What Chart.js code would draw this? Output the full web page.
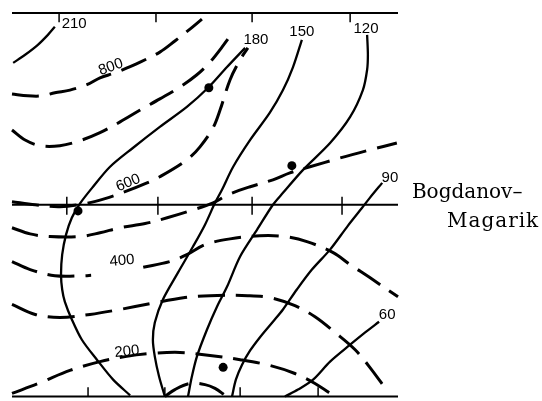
<!DOCTYPE html>
<html>
<head>
<meta charset="utf-8">
<script src="https://cdn.jsdelivr.net/npm/chart.js"></script>
<style>
  body { margin: 0; background: #fff; }
  canvas { display: block; }
</style>
</head>
<body>
<canvas id="myChart" width="542" height="401"></canvas>
<script>
// heltrukne kurver (210, 180, 150, 120, 90, 60)
let kurve210 = [[0.3, 87.0], [3.4, 89.1], [6.7, 91.7], [9.3, 94.3], [11.1, 96.4]];
let kurve180 = [[60.4, 90.9], [55.7, 85.9], [51.0, 80.7], [45.3, 75.5], [38.3, 70.3], [31.3, 64.8], [25.4, 59.9], [21.0, 54.7], [17.6, 50.3], [15.5, 46.6], [14.0, 42.2], [13.0, 37.0], [12.7, 31.8], [13.0, 27.9], [13.7, 24.7], [15.5, 20.1], [18.1, 14.8], [22.0, 9.6], [26.2, 4.4], [30.6, 0.3]];
let kurve150 = [[75.1, 93.0], [72.8, 85.9], [70.2, 79.9], [66.8, 74.0], [61.7, 66.9], [57.3, 59.9], [54.4, 53.9], [52.6, 50.5], [50.0, 44.8], [46.9, 39.1], [43.0, 32.3], [39.1, 25.3], [37.0, 19.3], [36.5, 14.8], [37.0, 10.4], [38.1, 5.2], [39.6, 0]];
let kurve120 = [[92.0, 94.3], [92.2, 89.1], [92.0, 85.2], [90.9, 79.9], [87.6, 72.9], [82.4, 66.1], [75.4, 59.1], [70.2, 53.1], [67.6, 50.0], [63.5, 43.5], [59.1, 36.5], [55.7, 28.6], [53.1, 23.4], [50.5, 17.4], [47.9, 10.4], [46.6, 5.2], [45.6, 0]];
let kurve90 = [[95.9, 55.7], [92.7, 51.8], [90.7, 49.2], [87.0, 44.5], [82.4, 38.3], [77.7, 33.1], [73.8, 27.9], [70.2, 22.7], [67.6, 19.5], [64.2, 15.4], [61.7, 12.0], [59.6, 8.3], [58.0, 4.4], [57.0, 0]];
let kurve60 = [[95.1, 19.5], [91.5, 16.7], [87.6, 13.5], [82.4, 9.1], [78.0, 4.4], [74.1, 1.8], [70.7, 0]];

// stiplede kurver (800, 600, 400, 200 og de uten tall)
let stiplet800 = [[0, 78.9], [4.1, 78.4], [7.8, 78.4], [11.1, 79.2], [15.0, 79.9], [19.4, 81.3], [22.8, 83.1], [26.7, 84.4], [29.8, 85.7], [33.2, 87.2], [38.3, 89.8], [42.2, 92.7], [46.1, 95.8], [49.2, 98.4]];
let stipletA = [[0, 69.5], [3.4, 66.9], [7.3, 65.4], [12.4, 65.4], [17.6, 66.7], [22.8, 68.8], [28.0, 71.6], [33.2, 74.7], [38.3, 77.6], [43.5, 80.7], [47.9, 83.9], [51.3, 87.2], [54.4, 91.1], [57.3, 95.1]];
let stiplet600 = [[0, 50.8], [6.0, 50.0], [12.4, 49.5], [18.9, 50.3], [24.1, 51.6], [29.3, 53.4], [34.5, 55.5], [38.3, 57.3], [45.3, 61.7], [48.7, 65.1], [52.1, 70.1], [53.9, 74.7], [56.5, 82.6], [59.1, 87.8], [61.1, 90.9]];
let stipletB = [[0, 44.0], [4.7, 42.4], [9.8, 41.7], [17.6, 41.7], [22.8, 42.7], [28.0, 44.0], [34.5, 45.1], [40.2, 46.6], [46.1, 48.4], [52.1, 50.5], [56.0, 52.6], [61.7, 54.7], [67.6, 56.5], [72.0, 58.3], [77.2, 59.9], [85.0, 62.2], [92.7, 64.3], [99.7, 66.1]];
// hull der "400" står
let stiplet400 = [[0, 35.2], [4.7, 33.1], [11.1, 31.5], [18.9, 31.5], [20.5, 31.6], [26, null], [34.0, 33.7], [40.9, 35.2], [45.3, 37.0], [50.0, 39.6], [56.5, 41.1], [64.2, 41.9], [70.7, 41.7], [76.4, 40.4], [83.2, 37.5], [87.6, 34.4], [92.7, 31.0], [100, 26.0]];
let stipletC = [[0, 24.0], [6.0, 21.4], [12.4, 20.6], [20.2, 21.4], [28.0, 22.7], [35.8, 24.2], [44.8, 25.8], [51.3, 26.3], [61.1, 26.3], [66.8, 25.8], [73.3, 23.7], [78.5, 20.8], [83.7, 16.7], [88.9, 12.2], [92.7, 7.6], [96.6, 2.3]];
let stiplet200 = [[0, 0.8], [7.3, 3.6], [15.0, 6.8], [22.8, 9.1], [29.3, 10.4], [35.8, 11.2], [43.5, 11.5], [51.3, 10.7], [59.1, 9.6], [66.8, 8.1], [73.3, 6.0], [78.5, 3.4], [83.2, 0.3]];
let stipletBue = [[39.6, 0], [42.2, 1.8], [46.1, 3.4], [50.0, 3.1], [52.6, 2.1], [55.2, 0.3]];

// målepunkter (prikkene)
let prikker = [[51.0, 80.5], [72.5, 60.2], [17.1, 48.4], [54.7, 7.6]];

// små streker på de tre linjene
let toppTicks = [12.2, 37.3, 62.2, 87.6];
let midtTicks = [14.2, 37.8, 62.2, 85.5];
let bunnTicks = [19.7, 39.6, 59.1, 79.3];

// tekst: [tekst, x, y, vinkel]
let etiketter = [
    ["210", 16.1, 97.1, 0],
    ["800", 25.6, 85.9, -20],
    ["180", 63.2, 93.0, 0],
    ["150", 75.1, 95.1, 0],
    ["120", 91.7, 95.8, 0],
    ["600", 30.1, 55.7, -22],
    ["90", 97.9, 57.0, 0],
    ["400", 28.5, 35.4, -5],
    ["60", 97.2, 21.4, 0],
    ["200", 29.8, 11.7, -6]
];

function tilPunkter(liste) {
    return liste.map(p => ({ x: p[0], y: p[1] }));
}

let svart = "#000";
let datasett = [];

// rammen: tre vannrette linjer
[0, 50, 100].forEach(function (y) {
    datasett.push({ data: [{ x: 0, y: y }, { x: 100, y: y }], borderWidth: 2, borderColor: svart });
});

toppTicks.forEach(function (x) {
    datasett.push({ data: [{ x: x, y: 100 }, { x: x, y: 97.6 }], borderWidth: 1.5, borderColor: svart });
});
midtTicks.forEach(function (x) {
    datasett.push({ data: [{ x: x, y: 52.1 }, { x: x, y: 47.4 }], borderWidth: 1.5, borderColor: svart });
});
bunnTicks.forEach(function (x) {
    datasett.push({ data: [{ x: x, y: 0 }, { x: x, y: 2.4 }], borderWidth: 1.5, borderColor: svart });
});

[kurve210, kurve180, kurve150, kurve120, kurve90, kurve60].forEach(function (k) {
    datasett.push({ data: tilPunkter(k), borderWidth: 2.3, borderColor: svart, tension: 0.3 });
});

[stiplet800, stipletA, stiplet600, stipletB, stiplet400, stipletC, stiplet200, stipletBue].forEach(function (k) {
    datasett.push({ data: tilPunkter(k), borderWidth: 3, borderColor: svart, borderDash: [27, 11], tension: 0.35 });
});

datasett.push({
    data: tilPunkter(prikker),
    showLine: false,
    pointRadius: 4.5,
    pointBackgroundColor: svart,
    pointBorderColor: svart,
    pointBorderWidth: 0
});

// skriver tallene og navnet
let tekstPlugin = {
    id: "tekst",
    afterDatasetsDraw(chart) {
        let ctx = chart.ctx;
        let sx = chart.scales.x;
        let sy = chart.scales.y;
        ctx.save();
        ctx.fillStyle = svart;
        ctx.font = "15px 'Liberation Sans'";
        ctx.textAlign = "center";
        ctx.textBaseline = "middle";
        etiketter.forEach(function (e) {
            ctx.save();
            ctx.translate(sx.getPixelForValue(e[1]), sy.getPixelForValue(e[2]));
            ctx.rotate(e[3] * Math.PI / 180);
            ctx.fillText(e[0], 0, 0);
            ctx.restore();
        });
        ctx.font = "20px 'DejaVu Serif'";
        ctx.textAlign = "left";
        ctx.textBaseline = "alphabetic";
        ctx.fillText("Bogdanov\u2013", sx.getPixelForValue(103.6), sy.getPixelForValue(51.8));
        ctx.letterSpacing = "1px";
        ctx.fillText("Magarik", sx.getPixelForValue(112.7), sy.getPixelForValue(44.3));
        ctx.restore();
    }
};

const ctx = document.getElementById("myChart");

new Chart(ctx, {
    type: "scatter",
    data: { datasets: datasett },
    options: {
        responsive: false,
        animation: false,
        layout: { padding: { left: 12, right: 144, top: 13, bottom: 4 } },
        datasets: {
            scatter: {
                showLine: true,
                spanGaps: false,
                pointRadius: 0,
                clip: false
            }
        },
        plugins: {
            colors: { enabled: false },
            legend: { display: false },
            tooltip: { enabled: false }
        },
        scales: {
            x: { type: "linear", min: 0, max: 100, display: false },
            y: { type: "linear", min: 0, max: 100, display: false }
        }
    },
    plugins: [tekstPlugin]
});
</script>
</body>
</html>
